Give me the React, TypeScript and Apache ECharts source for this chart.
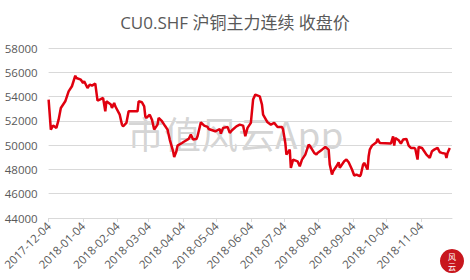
import React, { useEffect, useRef } from 'react';
import * as echarts from 'echarts';

const TITLE = 'CU0.SHF 沪铜主力连续 收盘价';
const WATERMARK = '市值风云App';
const AXIS_START = '2017-12-04';
const AXIS_END = '2018-12-02';
const Y_MIN = 44000;
const Y_MAX = 58000;
const Y_STEP = 2000;

const dates = [
  '2017-12-04','2017-12-06','2017-12-08','2017-12-11','2017-12-13','2017-12-15','2017-12-19','2017-12-22','2017-12-25','2017-12-28','2017-12-29',
  '2018-01-02','2018-01-04','2018-01-05','2018-01-08','2018-01-10','2018-01-12','2018-01-15','2018-01-17','2018-01-19','2018-01-22','2018-01-24','2018-01-25','2018-01-29','2018-01-30',
  '2018-02-01','2018-02-02','2018-02-06','2018-02-08','2018-02-09','2018-02-12','2018-02-14','2018-02-22','2018-02-23','2018-02-26','2018-02-28',
  '2018-03-01','2018-03-02','2018-03-05','2018-03-07','2018-03-09','2018-03-12','2018-03-13','2018-03-16','2018-03-19','2018-03-21','2018-03-23','2018-03-26','2018-03-27','2018-03-29','2018-03-30',
  '2018-04-03','2018-04-04','2018-04-09','2018-04-11','2018-04-13','2018-04-16','2018-04-17','2018-04-19','2018-04-20','2018-04-23','2018-04-26','2018-04-27',
  '2018-05-03','2018-05-07','2018-05-08','2018-05-10','2018-05-14','2018-05-16','2018-05-18','2018-05-22','2018-05-25','2018-05-28','2018-05-30',
  '2018-06-01','2018-06-04','2018-06-06','2018-06-08','2018-06-12','2018-06-14','2018-06-15','2018-06-19','2018-06-22','2018-06-25','2018-06-28',
  '2018-07-02','2018-07-03','2018-07-05','2018-07-06','2018-07-09','2018-07-10','2018-07-12','2018-07-16','2018-07-18','2018-07-20','2018-07-23','2018-07-26','2018-07-27','2018-07-31',
  '2018-08-02','2018-08-03','2018-08-07','2018-08-10','2018-08-13','2018-08-14','2018-08-16','2018-08-17','2018-08-20','2018-08-22','2018-08-23','2018-08-27','2018-08-29','2018-08-31',
  '2018-09-03','2018-09-05','2018-09-07','2018-09-10','2018-09-11','2018-09-13','2018-09-14','2018-09-17','2018-09-18','2018-09-19','2018-09-21','2018-09-25','2018-09-26','2018-09-28',
  '2018-10-08','2018-10-10','2018-10-11','2018-10-12','2018-10-15','2018-10-17','2018-10-19','2018-10-22','2018-10-24','2018-10-26','2018-10-29','2018-10-30',
  '2018-11-01','2018-11-02','2018-11-05','2018-11-07','2018-11-09','2018-11-12','2018-11-14','2018-11-16','2018-11-19','2018-11-21','2018-11-23','2018-11-26','2018-11-27','2018-11-28','2018-11-30'
];

const closes = [
  53750,51280,51610,51420,52100,53060,53610,54430,54850,55720,55530,
  55390,55120,55260,54710,54980,54900,55070,53670,53750,53890,52790,53610,53340,53060,
  53470,53200,52510,51690,51550,51830,52790,52790,53610,53530,53200,
  52380,52240,52510,52100,51280,51690,52240,51970,51550,51280,50460,49500,49030,49500,49960,
  50180,50240,50510,50870,50460,50510,50730,51500,51880,51610,51500,51330,
  51140,51330,50950,51420,51500,51010,51230,51550,51690,51610,50730,
  51420,51830,53750,54160,54020,53340,52510,51880,51690,51830,51500,
  51500,51280,50180,49220,49630,48130,48810,48670,48260,48810,49220,50050,49960,49360,
  49220,49360,49630,49850,49630,48400,47580,47850,48260,48590,48130,48670,48810,48590,
  47990,47500,47580,47440,47580,48400,48540,47990,49090,49630,49960,50240,50510,50180,
  50130,50730,49960,50590,50400,50130,50460,50510,49960,49770,49770,49690,
  48810,49850,49770,49500,49220,48950,49500,49630,49770,49410,49360,49300,48950,49360,49770
];

function buildDays(start: string, end: string): string[] {
  const out: string[] = [];
  const t0 = Date.parse(start + 'T00:00:00Z');
  const t1 = Date.parse(end + 'T00:00:00Z');
  for (let t = t0; t <= t1; t += 86400000) {
    out.push(new Date(t).toISOString().slice(0, 10));
  }
  return out;
}

const FONT = '"Open Sans", "Noto Sans CJK SC", sans-serif';
const TEXT_COLOR = '#595959';

export default function App() {
  const ref = useRef<HTMLDivElement>(null);
  useEffect(() => {
    if (!ref.current) return;
    const chart = echarts.init(ref.current, undefined, { renderer: 'svg' });
    const days = buildDays(AXIS_START, AXIS_END);
    const seriesData = dates.map((d, i) => [days.indexOf(d), closes[i]]);
    const isTick = (_i: number, v: string) => v.slice(8) === '04';
    chart.setOption({
      animation: false,
      backgroundColor: '#ffffff',
      title: {
        text: TITLE,
        left: 'center',
        top: 9,
        textStyle: { fontSize: 17, fontWeight: 'normal', color: TEXT_COLOR, fontFamily: FONT },
      },
      grid: { left: 48, right: 18, top: 48, bottom: 62 },
      xAxis: {
        type: 'category',
        data: days,
        boundaryGap: false,
        axisLine: { lineStyle: { color: '#d9d9d9', width: 1 } },
        axisTick: { show: true, interval: isTick, length: 4, lineStyle: { color: '#d9d9d9' } },
        axisLabel: {
          interval: isTick,
          rotate: 45,
          fontSize: 11.5,
          color: TEXT_COLOR,
          fontFamily: FONT,
          margin: 6,
        },
        splitLine: { show: false },
      },
      yAxis: {
        type: 'value',
        min: Y_MIN,
        max: Y_MAX,
        interval: Y_STEP,
        axisLine: { show: false },
        axisTick: { show: false },
        axisLabel: {
          fontSize: 11.5,
          color: TEXT_COLOR,
          fontFamily: FONT,
          margin: 11,
          formatter: (v: number) => String(v),
        },
        splitLine: { lineStyle: { color: '#d9d9d9', width: 1 } },
      },
      graphic: [
        {
          type: 'text',
          left: 127,
          top: 114,
          z: 0,
          silent: true,
          style: {
            text: WATERMARK,
            fontSize: 37,
            fontFamily: '"Noto Sans CJK SC", sans-serif',
            fill: 'rgba(160,160,160,0.45)',
          },
        },
        {
          type: 'circle',
          shape: { cx: 452, cy: 261, r: 12 },
          style: { fill: '#c8161d' },
          z: 10,
        },
        {
          type: 'text',
          x: 452,
          y: 256,
          z: 11,
          style: { text: '风', fontSize: 8, fill: '#ffffff', align: 'center', verticalAlign: 'middle', fontFamily: '"Noto Sans CJK SC", sans-serif' },
        },
        {
          type: 'text',
          x: 452,
          y: 266,
          z: 11,
          style: { text: '云', fontSize: 8, fill: '#ffffff', align: 'center', verticalAlign: 'middle', fontFamily: '"Noto Sans CJK SC", sans-serif' },
        },
      ],
      series: [
        {
          type: 'line',
          data: seriesData,
          showSymbol: false,
          symbol: 'none',
          lineStyle: { color: '#e0000f', width: 2.5 },
          z: 5,
        },
      ],
    });
    return () => chart.dispose();
  }, []);
  return (
    <div
      ref={ref}
      style={{ position: 'fixed', left: 0, top: 0, width: 470, height: 280, background: '#fff' }}
    />
  );
}
